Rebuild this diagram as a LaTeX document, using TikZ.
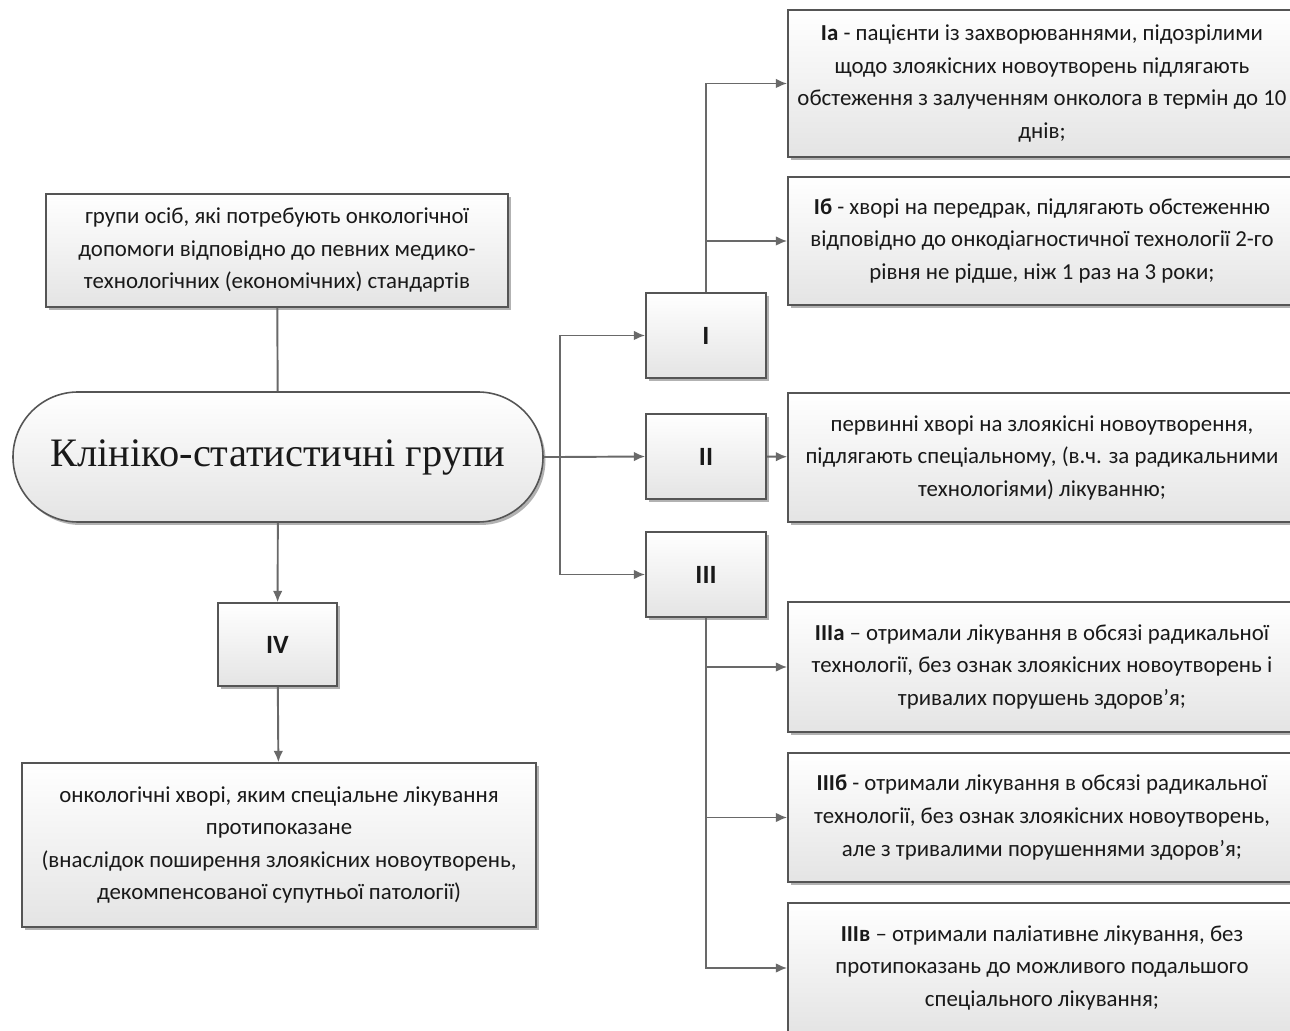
\documentclass[tikz,border=0pt]{standalone}
\usepackage{fontspec}
\setmainfont{Carlito}
\newfontfamily\serifkc{Liberation Serif}
\usepackage{xcolor}
\definecolor{ksline}{RGB}{105,105,105}
\definecolor{ksborder}{RGB}{85,85,85}
\definecolor{ksfill}{RGB}{228,228,228}
\definecolor{kstext}{RGB}{25,25,25}
\usetikzlibrary{arrows.meta, positioning, shadows}

\begin{document}
\begin{tikzpicture}[
    box/.style={draw=ksborder, line width=0.9pt, top color=white, bottom color=ksfill,
      drop shadow={shadow xshift=0.05cm, shadow yshift=-0.06cm, fill=black!50, opacity=0.6},
      align=center, text=kstext, font=\fontsize{13}{18.5}\selectfont, inner xsep=2pt},
    numbox/.style={box, font=\fontsize{15}{18}\selectfont\bfseries, minimum width=2.4cm, minimum height=1.7cm},
    descbox/.style={box, minimum width=10.16cm},
    conn/.style={draw=ksline, line width=1.1pt},
    arr/.style={conn, -{Latex[length=6.5pt, width=5.5pt]}}
  ]
  \useasboundingbox[fill=white] (0,0) rectangle (25.8,20.6);

  % Left column
  \node[box, minimum width=9.24cm, minimum height=2.26cm] (grp) at (5.54,15.59)
    {групи осіб, які потребують онкологічної\\допомоги відповідно до певних медико-\\технологічних (економічних) стандартів};
  \node[box, rounded corners=1.3cm, minimum width=10.6cm, minimum height=2.6cm,
    font=\serifkc\fontsize{23}{28}\selectfont] (kc) at (5.56,11.46) {Клініко-статистичні групи};
  \node[numbox, minimum width=2.38cm, minimum height=1.66cm] (g4) at (5.55,7.71) {IV};
  \node[box, minimum width=10.28cm, minimum height=3.28cm] (g4t) at (5.58,3.7)
    {онкологічні хворі, яким спеціальне лікування\\протипоказане\\(внаслідок поширення злоякісних новоутворень,\\декомпенсованої супутньої патології)};

  % Groups I, II, III
  \node[numbox] (g1) at (14.12,13.89) {I};
  \node[numbox] (g2) at (14.12,11.47) {II};
  \node[numbox] (g3) at (14.12,9.11) {III};

  % Right column
  \node[descbox, minimum height=2.94cm] (g1a) at (20.84,18.93)
    {\textbf{Iа} - пацієнти із захворюваннями, підозрілими\\щодо злоякісних новоутворень підлягають\\обстеження з залученням онколога в термін до 10\\днів;};
  \node[descbox, minimum height=2.56cm] (g1b) at (20.84,15.78)
    {\textbf{Iб} - хворі на передрак, підлягають обстеженню\\відповідно до онкодіагностичної технології 2-го\\рівня не рідше, ніж 1 раз на 3 роки;};
  \node[descbox, minimum height=2.58cm] (g2t) at (20.84,11.45)
    {первинні хворі на злоякісні новоутворення,\\підлягають спеціальному, (в.ч. за радикальними\\технологіями) лікуванню;};
  \node[descbox, minimum height=2.6cm] (g3a) at (20.84,7.26)
    {\textbf{IIIа} – отримали лікування в обсязі радикальної\\технології, без ознак злоякісних новоутворень і\\тривалих порушень здоров’я;};
  \node[descbox, minimum height=2.58cm] (g3b) at (20.84,4.25)
    {\textbf{IIIб} - отримали лікування в обсязі радикальної\\технології, без ознак злоякісних новоутворень,\\але з тривалими порушеннями здоров’я;};
  \node[descbox, minimum height=2.6cm] (g3v) at (20.84,1.24)
    {\textbf{IIIв} – отримали паліативне лікування, без\\протипоказань до можливого подальшого\\спеціального лікування;};

  % Connectors
  \coordinate (split) at (11.2,11.46);
  \draw[conn] (grp) -- (kc);
  \draw[arr] (kc) -- (g4);
  \draw[arr] (g4) -- (g4t);
  \draw[conn] (kc.east) -- (split);
  \draw[arr] (split) |- (g1.west);
  \draw[arr] (split) -- (g2.west);
  \draw[arr] (split) |- (g3.west);
  \draw[arr] (g1.north) |- (g1a.west);
  \draw[arr] (g1.north) |- (g1b.west);
  \draw[arr] (g2) -- (g2t);
  \draw[arr] (g3.south) |- (g3a.west);
  \draw[arr] (g3.south) |- (g3b.west);
  \draw[arr] (g3.south) |- (g3v.west);
\end{tikzpicture}
\end{document}
